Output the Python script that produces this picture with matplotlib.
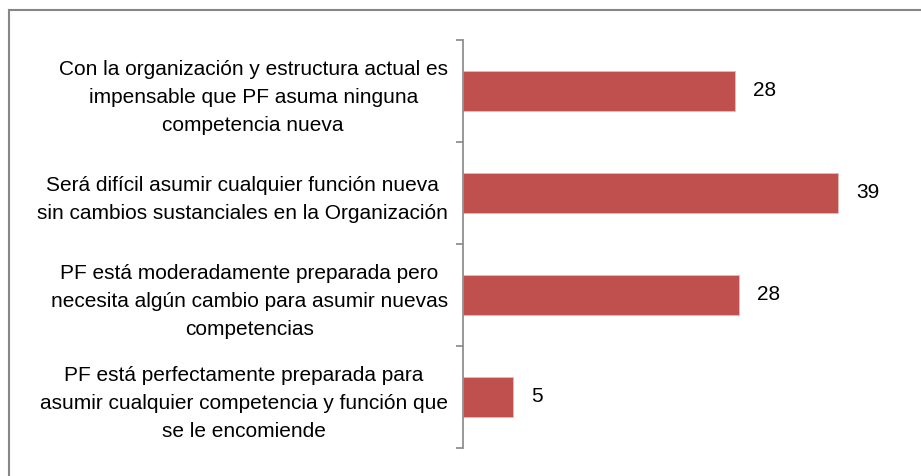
import matplotlib.pyplot as plt
from matplotlib.lines import Line2D

# Datos
categorias = [
    "Con la organización y estructura actual es\nimpensable que PF asuma ninguna\ncompetencia nueva",
    "Será difícil asumir cualquier función nueva\nsin cambios sustanciales en la Organización",
    "PF está moderadamente preparada pero\nnecesita algún cambio para asumir nuevas\ncompetencias",
    "PF está perfectamente preparada para\nasumir cualquier competencia y función que\nse le encomiende",
]
valores = [28.3, 39.0, 28.7, 5.2]
etiquetas = ["28", "39", "28", "5"]

COLOR_BARRA = "#C0504D"
COLOR_EJE = "#868686"

plt.rcParams['font.family'] = ['Liberation Sans', 'DejaVu Sans']

fig = plt.figure(figsize=(9.21, 4.76), dpi=100)
ax = fig.add_axes([463 / 921, 28 / 476, 437 / 921, 408 / 476])

pos = list(range(len(categorias)))
ax.barh(pos, valores, height=0.4, color=COLOR_BARRA, edgecolor="#E6B9B8", linewidth=0.6)

for p, v, t in zip(pos, valores, etiquetas):
    ax.text(v + 1.9, p, t, va="center", ha="left", fontsize=15)

ax.set_xlim(0, 45.5)
ax.set_ylim(len(categorias) - 0.5, -0.5)

# eje vertical con marcas entre categorías
ax.set_yticks(pos)
ax.set_yticklabels(categorias, fontsize=15, multialignment="center", linespacing=1.62)
ax.set_yticks([p - 0.5 for p in range(len(categorias) + 1)], minor=True)
ax.tick_params(axis="y", which="major", length=0, pad=11)
ax.tick_params(axis="y", which="minor", length=5, color=COLOR_EJE, width=1.2)
ax.set_xticks([])

for lado in ["top", "right", "bottom"]:
    ax.spines[lado].set_visible(False)
ax.spines["left"].set_color(COLOR_EJE)
ax.spines["left"].set_linewidth(1.2)

# marco exterior
fig.add_artist(Line2D([8.5 / 921, 8.5 / 921], [0, 1 - 9.5 / 476], color=COLOR_EJE, lw=1.5))
fig.add_artist(Line2D([8.5 / 921, 1], [1 - 9.5 / 476, 1 - 9.5 / 476], color=COLOR_EJE, lw=1.5))

fig.savefig("out.png", dpi=100)
